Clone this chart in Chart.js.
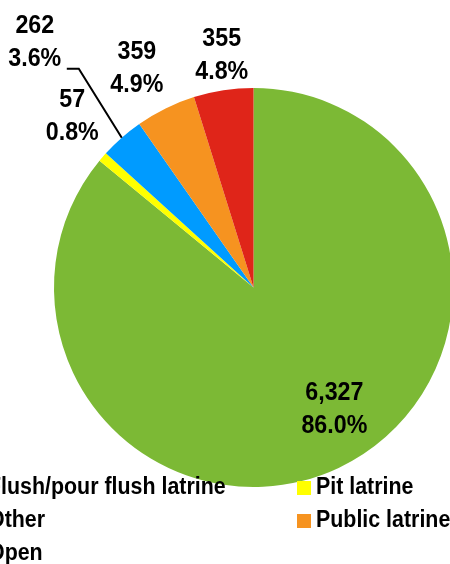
<!DOCTYPE html>
<html lang="en">
<head>
  <meta charset="UTF-8">
  <title>Sanitation facilities</title>
  <script src="https://cdn.jsdelivr.net/npm/chart.js"></script>
  <style>
    * { box-sizing: border-box; margin: 0; padding: 0; }
    html, body { background: #fff; width: 450px; height: 564px; overflow: hidden; }
    /* the pie runs a little past the right edge, so the canvas is wider than the window */
    #wrap { position: absolute; left: 0; top: 0; width: 460px; height: 564px; }
  </style>
</head>
<body>
<div id="wrap"><canvas id="pie"></canvas></div>
<script>
  // ─── data ──────────────────────────────────────────────────────────────────
  const categories = ['Flush/pour flush latrine', 'Pit latrine', 'Other', 'Public latrine', 'Open'];
  const counts     = [6327, 57, 262, 359, 355];
  const percents   = ['86.0%', '0.8%', '3.6%', '4.9%', '4.8%'];
  const colors     = ['#7cb935', '#ffff00', '#009bff', '#f69320', '#df2519'];

  // label placement: [radius factor, angle shift in degrees]
  const labelPlace = [[0.72, -9], [1.26, 3], [1.66, 0], [1.26, -1.5], [1.19, 1]];
  const FONT  = '"Liberation Sans", Arial, sans-serif';
  const SQUEEZE = 0.93;   // narrow-ish look of the original font

  function narrowText(ctx, text, x, y) {
    ctx.save();
    ctx.translate(x, y);
    ctx.scale(SQUEEZE, 1);
    ctx.fillText(text, 0, 0);
    ctx.restore();
  }

  const labelsPlugin = {
    id: 'sliceLabels',
    afterDatasetsDraw(chart) {
      const ctx  = chart.ctx;
      const arcs = chart.getDatasetMeta(0).data;
      ctx.save();
      ctx.fillStyle = '#000';
      ctx.textAlign = 'center';
      ctx.textBaseline = 'middle';
      ctx.font = 'bold 25px ' + FONT;

      arcs.forEach((arc, i) => {
        const mid = (arc.startAngle + arc.endAngle) / 2 + labelPlace[i][1] * Math.PI / 180;
        const r   = arc.outerRadius * labelPlace[i][0];
        const x   = arc.x + Math.cos(mid) * r;
        const y   = arc.y + Math.sin(mid) * r;
        narrowText(ctx, counts[i].toLocaleString('en-US'), x, y - 13);
        narrowText(ctx, percents[i], x, y + 20);

        // leader line for the far-out label
        if (labelPlace[i][0] > 1.5) {
          const m  = (arc.startAngle + arc.endAngle) / 2;
          const ex = arc.x + Math.cos(m) * arc.outerRadius;
          const ey = arc.y + Math.sin(m) * arc.outerRadius;
          ctx.beginPath();
          ctx.lineWidth = 2;
          ctx.strokeStyle = '#000';
          ctx.moveTo(x + 32, y + 30);
          ctx.lineTo(x + 44, y + 30);
          ctx.lineTo(ex, ey);
          ctx.stroke();
        }
      });

      // legend, two columns, partly off the left edge
      ctx.textAlign = 'left';
      ctx.font = 'bold 23px ' + FONT;
      const colX = [-31, 297];
      const rowY = [488, 521, 554];
      categories.forEach((c, i) => {
        const x = colX[i % 2];
        const y = rowY[Math.floor(i / 2)];
        ctx.fillStyle = colors[i];
        ctx.fillRect(x, y - 7, 14, 14);
        ctx.fillStyle = '#000';
        narrowText(ctx, c, x + 19, y);
      });
      ctx.restore();
    }
  };

  new Chart(document.getElementById('pie'), {
    type: 'pie',
    data: {
      labels: categories,
      datasets: [{
        data: counts,
        backgroundColor: colors,
        borderWidth: 0,
      }]
    },
    options: {
      responsive: true,
      maintainAspectRatio: false,
      animation: false,
      layout: { padding: { left: 54, top: 88, right: 7, bottom: 77 } },
      plugins: { legend: { display: false }, tooltip: { enabled: false } }
    },
    plugins: [labelsPlugin]
  });
</script>
</body>
</html>
